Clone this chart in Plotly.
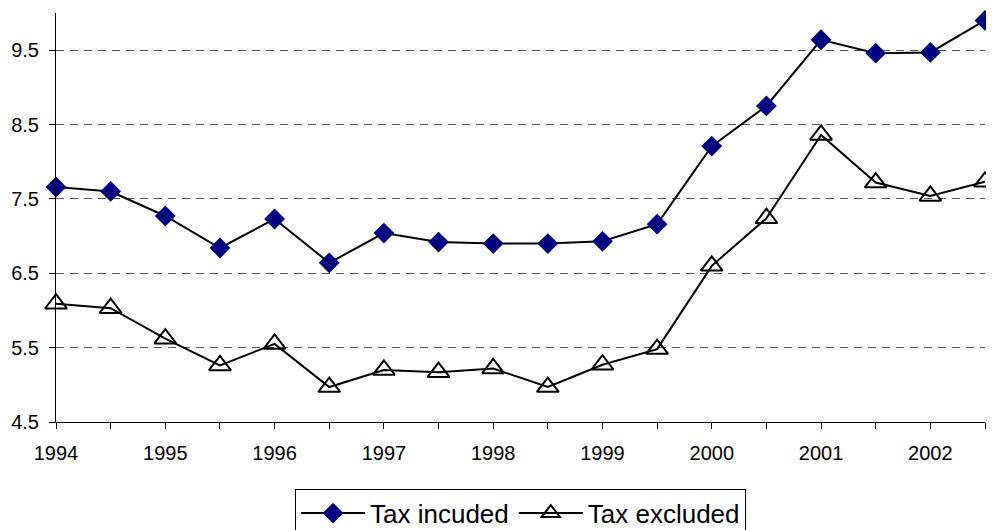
import plotly.graph_objects as go

periods = [1994, 1994.5, 1995, 1995.5, 1996, 1996.5, 1997, 1997.5, 1998, 1998.5,
           1999, 1999.5, 2000, 2000.5, 2001, 2001.5, 2002, 2002.5]
tax_included = [7.66, 7.60, 7.27, 6.84, 7.23, 6.64, 7.04, 6.92, 6.90, 6.90,
                6.93, 7.16, 8.21, 8.75, 9.64, 9.46, 9.47, 9.90]
tax_excluded = [6.09, 6.03, 5.62, 5.26, 5.55, 4.97, 5.20, 5.17, 5.22, 4.97,
                5.27, 5.48, 6.60, 7.24, 8.36, 7.72, 7.54, 7.73]
year_ticks = [1994, 1995, 1996, 1997, 1998, 1999, 2000, 2001, 2002]
y_ticks = [4.5, 5.5, 6.5, 7.5, 8.5, 9.5]

fig = go.Figure()
fig.add_trace(go.Scatter(
    x=periods, y=tax_included, name="Tax incuded", mode="lines+markers",
    line=dict(color="black", width=2),
    marker=dict(symbol="diamond", size=16, color="#000080", line=dict(width=0)),
    cliponaxis=False,
))
fig.add_trace(go.Scatter(
    x=periods, y=tax_excluded, name="Tax excluded", mode="lines+markers",
    line=dict(color="black", width=2),
    marker=dict(symbol="triangle-up-open", size=19, color="black", line=dict(width=2, color="black")),
    cliponaxis=False,
))

fig.update_layout(
    width=986, height=522,
    margin=dict(l=48, r=9, t=5, b=108, autoexpand=False),
    paper_bgcolor="white", plot_bgcolor="white",
    font=dict(family="Liberation Sans, Arial, sans-serif", color="black", size=20),
    showlegend=True,
    legend=dict(
        orientation="h", x=0.5, xanchor="center", y=-0.163, yanchor="top",
        bordercolor="black", borderwidth=1, bgcolor="white",
        font=dict(size=26), itemwidth=64, tracegroupgap=0,
    ),
    xaxis=dict(
        range=[1994, 2002.5], tickvals=year_ticks, ticktext=[str(y) for y in year_ticks],
        showgrid=False, zeroline=False, showline=True, linecolor="black", linewidth=1,
        ticks="outside", ticklen=6, tickcolor="black", automargin=False,
        minor=dict(dtick=0.5, tick0=1994, ticks="outside", ticklen=6, tickcolor="black", showgrid=False),
        ticklabelstandoff=7,
    ),
    yaxis=dict(
        range=[4.5, 10.0], tickvals=y_ticks, ticktext=[str(v) for v in y_ticks],
        showgrid=True, gridcolor="#555555", gridwidth=1, griddash="8px,6px",
        zeroline=False, showline=True, linecolor="black", linewidth=1,
        ticks="outside", ticklen=6, tickcolor="black", automargin=False,
        ticklabelstandoff=6,
    ),
)

fig.write_html("out.html")
